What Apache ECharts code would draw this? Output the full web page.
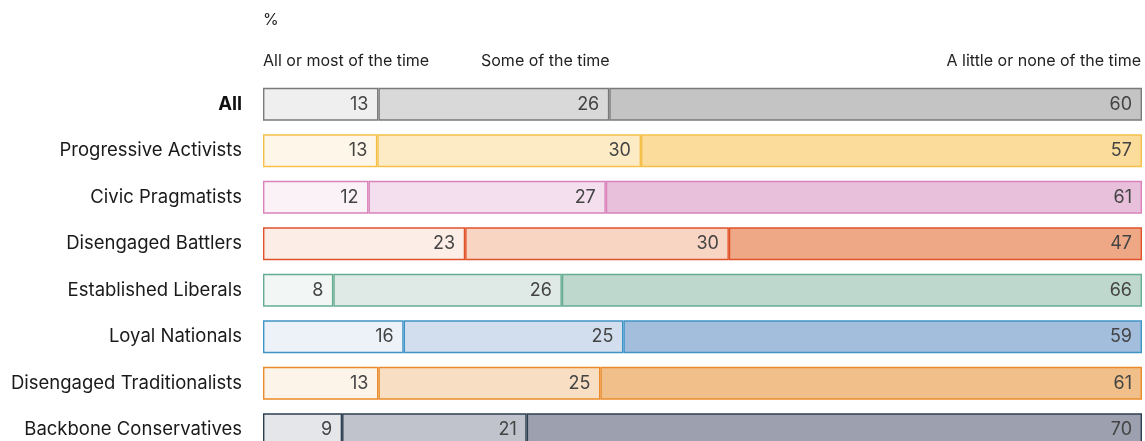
<!DOCTYPE html>
<html>
<head>
<meta charset="utf-8">
<script src="https://cdn.jsdelivr.net/npm/echarts@6/dist/echarts.min.js"></script>
<style>
html,body{margin:0;padding:0;background:#fff;overflow:hidden;}
#chart{width:1145px;height:453px;}
</style>
</head>
<body>
<div id="chart"></div>
<script>
const categories = ["All","Progressive Activists","Civic Pragmatists","Disengaged Battlers","Established Liberals","Loyal Nationals","Disengaged Traditionalists","Backbone Conservatives"];
const seriesNames = ["All or most of the time","Some of the time","A little or none of the time"];
const allOrMost = [13,13,12,23,8,16,13,9];
const someOfTime = [26,30,27,30,26,25,25,21];
const littleOrNone = [60,57,61,47,66,59,61,70];

const fills = [
  ["#efefef","#d9d9d9","#c4c4c4"],
  ["#fef7e9","#fdebc6","#fbdc9a"],
  ["#faf2f7","#f3dfee","#e9c0dc"],
  ["#fcede6","#f8d4c2","#eea886"],
  ["#f2f6f4","#dfe9e5","#bfd8ce"],
  ["#edf2f9","#d2deee","#a2bedc"],
  ["#fcf3e9","#f8dfc4","#f1c08a"],
  ["#e5e6ea","#c0c3cc","#9da1af"]
];
const borders = ["#7a7a7a","#f5c04a","#d982ba","#e0532a","#66ad92","#3f94c6","#ea8a2a","#2d3e50"];

const raw = [allOrMost, someOfTime, littleOrNone];
const totals = categories.map((c,i)=>raw[0][i]+raw[1][i]+raw[2][i]);
const FONT = "Inter, 'Noto Sans', sans-serif";

const series = raw.map((arr, s) => ({
  name: seriesNames[s],
  type: 'bar',
  stack: 'total',
  barWidth: 33,
  data: arr.map((v,i)=>({
    value: v / totals[i] * 100,
    raw: v,
    itemStyle: {color: fills[i][s], borderColor: borders[i], borderWidth: 1.4}
  })),
  label: {
    show: true,
    position: 'insideRight',
    distance: 10,
    formatter: p => String(p.data.raw),
    color: '#444',
    fontSize: 18,
    fontFamily: FONT
  },
  emphasis: {disabled: true}
}));

const chart = echarts.init(document.getElementById('chart'));
chart.setOption({
  animation: false,
  grid: {left: 263, right: 3, top: 81, bottom: 0, containLabel: false},
  xAxis: {type: 'value', min: 0, max: 100, show: false},
  yAxis: {
    type: 'category',
    data: categories,
    inverse: true,
    axisLine: {show: false},
    axisTick: {show: false},
    axisLabel: {
      margin: 21,
      fontSize: 18.5,
      color: '#1a1a1a',
      fontFamily: FONT,
      formatter: v => v === 'All' ? '{b|All}' : v,
      rich: {b: {fontWeight: 'bold', fontSize: 18.5, color: '#111', fontFamily: FONT}}
    }
  },
  graphic: [
    {type:'text', left: 263, top: 12, style:{text:'%', fontSize:16, fill:'#222', fontFamily: FONT}},
    {type:'text', left: 263, top: 53, style:{text:seriesNames[0], fontSize:16, fill:'#222', fontFamily: FONT}},
    {type:'text', left: 481, top: 53, style:{text:seriesNames[1], fontSize:16, fill:'#222', fontFamily: FONT}},
    {type:'text', right: 4, top: 53, style:{text:seriesNames[2], fontSize:16, fill:'#222', fontFamily: FONT}}
  ],
  series: series
});
</script>
</body>
</html>
